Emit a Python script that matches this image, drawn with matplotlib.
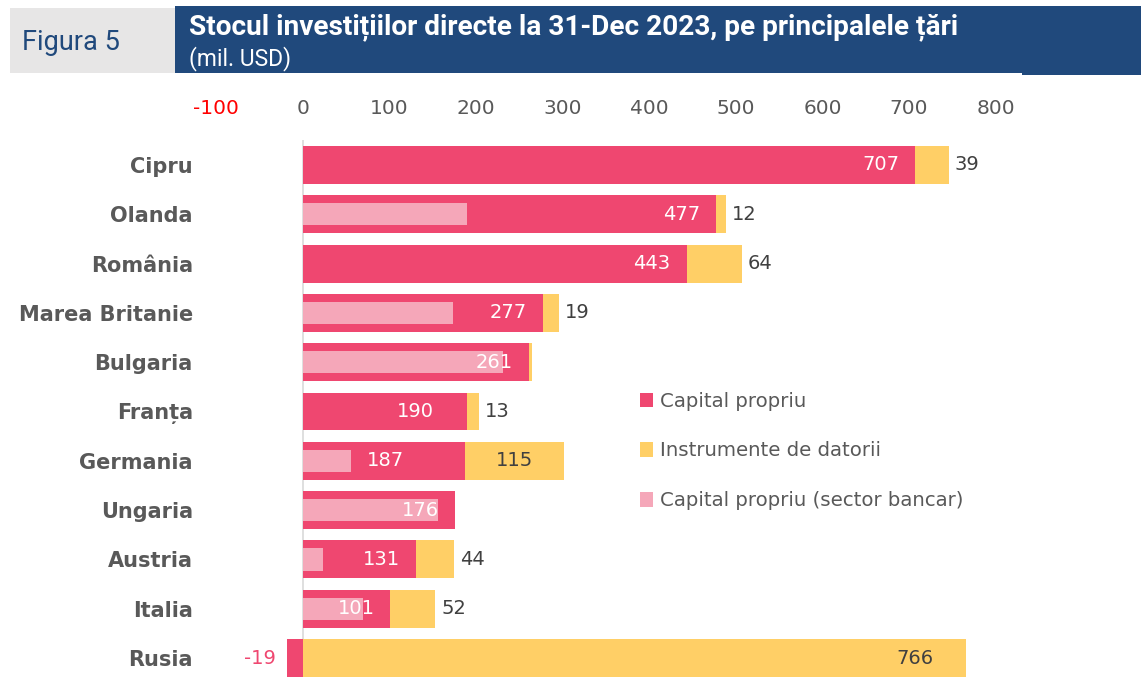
import matplotlib
matplotlib.use("Agg")
import matplotlib.pyplot as plt
from matplotlib.patches import Rectangle, Patch
import numpy as np

plt.rcParams['font.family'] = ['DejaVu Sans']

# ---------------- data ----------------
countries = ["Cipru", "Olanda", "România", "Marea Britanie", "Bulgaria", "Franța",
             "Germania", "Ungaria", "Austria", "Italia", "Rusia"]
capital = [707, 477, 443, 277, 261, 190, 187, 176, 131, 101, -19]
debt = [39, 12, 64, 19, 4, 13, 115, 0, 44, 52, 766]
bank = [0, 190, 0, 173, 231, 0, 55, 156, 23, 69, 0]
series_names = ["Capital propriu", "Instrumente de datorii", "Capital propriu (sector bancar)"]
xticks = [-100, 0, 100, 200, 300, 400, 500, 600, 700, 800]
title = "Stocul investițiilor directe la 31-Dec 2023, pe principalele țări"
subtitle = "(mil. USD)"
fig_label = "Figura 5"

# ---------------- style ----------------
C_CAP = "#EF4770"
C_DEBT = "#FFCF66"
C_BANK = "#F5A7B9"
C_BLUE = "#20497C"
C_GREY_BOX = "#E7E6E6"
C_TXT = "#595959"
HEAD_FAM = ['Roboto', 'DejaVu Sans']

W, H = 1141, 677
fig = plt.figure(figsize=(W / 100, H / 100), dpi=100)


def fx(px):
    return px / W


def fy(py):
    return 1 - py / H


# header boxes
fig.add_artist(Rectangle((fx(10), fy(73)), fx(175) - fx(10), fy(8) - fy(73),
                         transform=fig.transFigure, facecolor=C_GREY_BOX, edgecolor="none"))
fig.add_artist(Rectangle((fx(175), fy(73)), fx(1141) - fx(175), fy(6) - fy(73),
                         transform=fig.transFigure, facecolor=C_BLUE, edgecolor="none"))
fig.add_artist(Rectangle((fx(1022), fy(75)), fx(1141) - fx(1022), fy(72) - fy(75),
                         transform=fig.transFigure, facecolor=C_BLUE, edgecolor="none"))
fig.text(fx(22), fy(42), fig_label, color=C_BLUE, fontsize=19.5, va="center", ha="left",
         family=HEAD_FAM)
fig.text(fx(189), fy(27), title, color="white", fontsize=20.2, fontweight="bold",
         va="center", ha="left", family=HEAD_FAM)
fig.text(fx(189), fy(59), subtitle, color="white", fontsize=16.5, va="center", ha="left",
         family=HEAD_FAM)

# axes placement
x0_px, x1_px = 216.4, 995.6
top_px, bot_px = 140.3, 682.7
ax = fig.add_axes([fx(x0_px), fy(bot_px), fx(x1_px) - fx(x0_px), fy(top_px) - fy(bot_px)])
ax.set_xlim(-100, 800)
n = len(countries)
y = np.arange(n)
ax.set_ylim(n - 0.5, -0.5)

cap = np.array(capital, dtype=float)
dbt = np.array(debt, dtype=float)
bnk = np.array(bank, dtype=float)
debt_left = np.maximum(cap, 0)

bh = 0.77
ax.barh(y, cap, height=bh, color=C_CAP, zorder=2)
ax.barh(y, dbt, left=debt_left, height=bh, color=C_DEBT, zorder=2)
ax.barh(y, bnk, height=0.45, color=C_BANK, zorder=3)

# zero line
ax.axvline(0, color="#D9D9D9", lw=1.2, zorder=1)

# spines / ticks
for s in ax.spines.values():
    s.set_visible(False)
ax.xaxis.tick_top()
ax.set_xticks(xticks)
ax.set_xticklabels([str(t) for t in xticks])
ax.tick_params(axis="x", length=0, pad=16, labelsize=14.5, labelcolor="#595959")
for lbl, t in zip(ax.get_xticklabels(), xticks):
    if t < 0:
        lbl.set_color("#FF0000")
ax.set_yticks(y)
ax.set_yticklabels(countries)
ax.tick_params(axis="y", length=0, pad=17, labelsize=15)
for lbl in ax.get_yticklabels():
    lbl.set_fontweight("bold")
    lbl.set_color(C_TXT)

# value labels
upx = (800 - (-100)) / (x1_px - x0_px)  # data units per pixel
cap_nudge = {"Franța": -18, "Germania": -45}
FS = 14
for i, (c, d, name) in enumerate(zip(cap, dbt, countries)):
    if c > 0:
        xr = c - (16 + -cap_nudge.get(name, 0)) * upx
        ax.text(xr, i, f"{int(c)}", ha="right", va="center", color="white",
                fontsize=FS, zorder=5)
    else:
        ax.text(c - 11 * upx, i, f"{int(c)}", ha="right", va="center", color=C_CAP,
                fontsize=FS, zorder=5)
    if d >= 10:
        end = debt_left[i] + d
        if name == "Germania":
            ax.text(debt_left[i] + d / 2, i, f"{int(d)}", ha="center", va="center",
                    color="#404040", fontsize=FS, zorder=5)
        elif name == "Rusia":
            ax.text(end - 33 * upx, i, f"{int(d)}", ha="right", va="center",
                    color="#404040", fontsize=FS, zorder=5)
        else:
            ax.text(end + 6 * upx, i, f"{int(d)}", ha="left", va="center",
                    color="#404040", fontsize=FS, zorder=5)

# legend
handles = [Patch(facecolor=C_CAP), Patch(facecolor=C_DEBT), Patch(facecolor=C_BANK)]
leg = fig.legend(handles, series_names, loc="upper left",
                 bbox_to_anchor=(fx(632), fy(384)), frameon=False, fontsize=14.2,
                 handlelength=0.67, handleheight=0.78, handletextpad=0.35,
                 labelspacing=1.55, borderaxespad=0)
for t in leg.get_texts():
    t.set_color(C_TXT)

fig.savefig("out.png", dpi=100)
